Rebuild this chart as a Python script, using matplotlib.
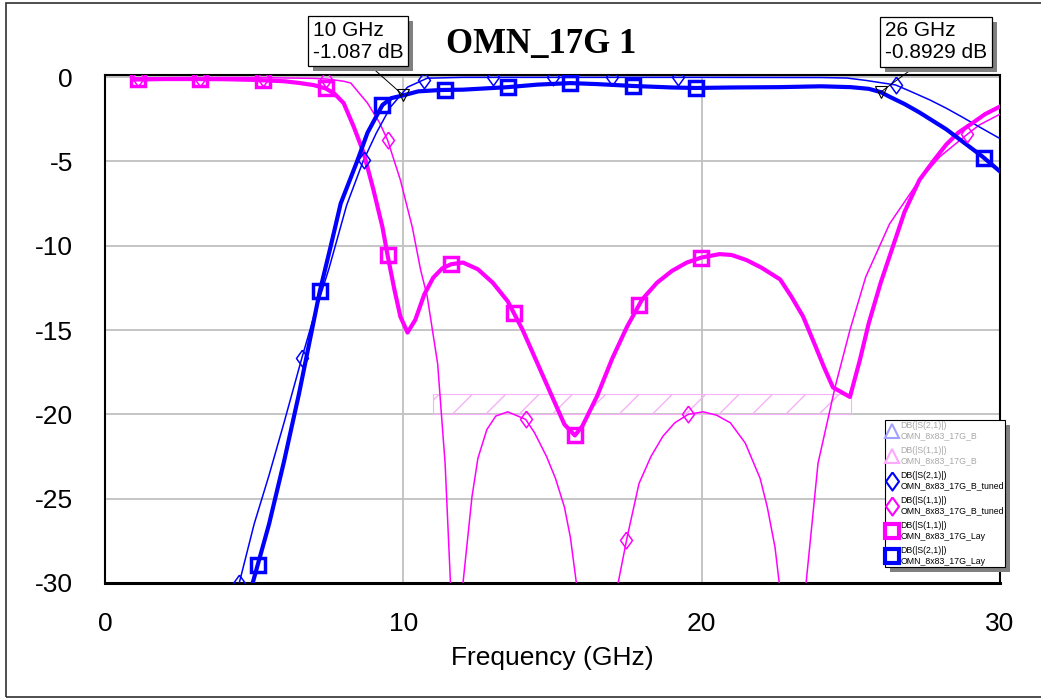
import numpy as np
import matplotlib
matplotlib.use("Agg")
import matplotlib.pyplot as plt
import matplotlib.patheffects as pe
from matplotlib.lines import Line2D
from matplotlib.patches import Rectangle

plt.rcParams['font.family'] = ['Liberation Sans', 'DejaVu Sans']
plt.rcParams['axes.unicode_minus'] = False

# ---- data (GHz, dB) ----
# DB(|S(2,1)|) OMN_8x83_17G_Lay  (thick blue)
f_s21_lay = [1.0, 4.95, 5.5, 6.0, 6.5, 7.2, 7.57, 7.9, 8.45, 8.8, 9.3, 9.6, 10.0, 10.5,
             11.25, 12.0, 13.5, 14.5, 15.6, 16.5, 17.7, 19.0, 19.8, 21.0, 22.6, 24.0,
             25.0, 25.6, 26.0, 26.3, 26.8, 27.3, 28.2, 28.8, 29.4, 30.0]
db_s21_lay = [-70, -30.0, -26.5, -22.8, -18.8, -12.7, -10.0, -7.5, -5.0, -3.3, -1.66, -1.25,
              -1.087, -0.85, -0.77, -0.75, -0.6, -0.45, -0.36, -0.42, -0.53, -0.62, -0.65,
              -0.62, -0.6, -0.55, -0.6, -0.7, -0.893, -1.17, -1.6, -2.1, -3.1, -3.9, -4.7, -5.6]

# DB(|S(1,1)|) OMN_8x83_17G_Lay  (thick magenta)
f_s11_lay = [1.0, 2.0, 3.0, 4.0, 5.0, 6.0, 6.5, 7.0, 7.4, 7.7, 8.0, 8.34, 8.67, 9.0, 9.3,
             9.47, 9.7, 9.9, 10.14, 10.4, 10.7, 11.0, 11.3, 11.6, 12.0, 12.5, 13.0, 13.5,
             14.0, 14.5, 15.0, 15.4, 15.75, 16.0, 16.5, 17.0, 17.5, 18.0, 18.5, 19.0, 19.5,
             20.0, 20.6, 21.0, 21.5, 22.0, 22.63, 23.0, 23.4, 23.8, 24.1, 24.4, 24.97, 25.3,
             25.6, 26.0, 26.4, 26.8, 27.3, 27.8, 28.2, 28.6, 29.1, 29.5, 30.0]
db_s11_lay = [-0.15, -0.12, -0.12, -0.13, -0.17, -0.25, -0.35, -0.48, -0.68, -1.0, -1.55,
              -2.96, -4.5, -6.7, -8.9, -10.55, -12.6, -14.2, -15.15, -14.4, -12.9, -11.9,
              -11.35, -11.1, -11.0, -11.4, -12.2, -13.3, -15.0, -17.0, -19.0, -20.6, -21.25,
              -20.7, -18.9, -16.7, -14.8, -13.2, -12.2, -11.5, -11.0, -10.7, -10.5, -10.55,
              -10.85, -11.3, -12.0, -13.0, -14.2, -15.9, -17.2, -18.4, -18.97, -16.8, -14.6,
              -12.2, -10.1, -8.0, -6.1, -4.9, -4.0, -3.3, -2.7, -2.2, -1.75]

# DB(|S(2,1)|) OMN_8x83_17G_B_tuned  (thin blue)
f_s21_tuned = [1.0, 4.5, 5.0, 5.5, 6.0, 6.6, 7.0, 7.5, 8.1, 8.65, 9.1, 9.57, 10.14, 10.8,
               12.0, 16.0, 20.0, 24.0, 24.87, 25.5, 26.5, 27.0, 27.65, 28.2, 28.76, 29.3, 30.0]
db_s21_tuned = [-70, -30.0, -26.5, -23.6, -20.5, -16.65, -14.2, -11.4, -7.6, -5.0, -3.3,
                -1.78, -0.6, -0.07, -0.02, -0.02, -0.02, -0.03, -0.06, -0.2, -0.47, -0.85,
                -1.36, -1.85, -2.4, -2.95, -3.65]

# DB(|S(1,1)|) OMN_8x83_17G_B_tuned  (thin magenta)
f_s11_tuned = [1.0, 3.0, 5.0, 7.0, 7.45, 8.0, 8.24, 8.8, 9.2, 9.47, 9.9, 10.3, 10.58, 10.8,
               11.15, 11.4, 11.58, 11.8, 12.0, 12.3, 12.5, 12.8, 13.1, 13.5, 14.1, 14.4,
               14.8, 15.1, 15.4, 15.6, 15.8, 16.5, 17.2, 17.5, 17.9, 18.3, 18.7, 19.1, 19.55,
               20.05, 20.5, 20.96, 21.46, 21.96, 22.2, 22.46, 22.6, 23.0, 23.5, 23.9, 24.47,
               24.97, 25.5, 26.3, 27.3, 28.0, 28.9, 29.3, 30.0]
db_s11_tuned = [-0.05, -0.03, -0.03, -0.08, -0.12, -0.25, -0.36, -1.55, -2.7, -3.73, -6.1,
                -8.9, -11.44, -13.0, -17.0, -22.9, -30.0, -45, -30.0, -24.9, -22.6, -20.9,
                -20.1, -19.85, -20.3, -21.1, -22.5, -23.8, -25.5, -27.3, -30.0, -45, -30.0,
                -27.3, -24.1, -22.5, -21.3, -20.5, -20.0, -19.85, -20.05, -20.5, -21.7, -23.8,
                -25.5, -27.9, -30.0, -45, -30.0, -22.9, -18.4, -15.0, -11.85, -8.7, -6.1,
                -4.7, -3.4, -2.85, -2.2]

# marker positions along each trace (GHz)
mk_s21_lay = [5.12, 7.2, 9.3, 11.4, 13.5, 15.6, 17.7, 19.8, 29.46]
mk_s11_lay = [1.12, 3.2, 5.3, 7.4, 9.47, 11.6, 13.7, 15.77, 17.9, 19.99]
mk_s21_tuned = [4.5, 6.6, 8.67, 10.7, 13.0, 15.0, 17.0, 19.2, 26.5]
mk_s11_tuned = [1.12, 3.2, 5.3, 7.4, 9.47, 14.1, 17.48, 19.55, 28.9]

# readout markers
mark_f = [10, 26]
mark_db = [-1.087, -0.8929]
mark_txt = ["10 GHz\n-1.087 dB", "26 GHz\n-0.8929 dB"]

# goal region
goal_f = [11, 25]
goal_db = [-20, -18.8]

blue = '#0000ff'
mag = '#ff00ff'
diamond = [(0, 1), (0.72, 0), (0, -1), (-0.72, 0), (0, 1)]
drop = [pe.SimplePatchShadow(offset=(3.6, -3.6), shadow_rgbFace='#808080', alpha=1.0),
        pe.Normal()]

fig = plt.figure(figsize=(10.41, 7), dpi=100)
ax = fig.add_axes([105 / 1041, 1 - 583 / 700, 895 / 1041, 508 / 700])

# outer frame
fig.patches.append(Rectangle((6, 3), 1045, 694, transform=None, fill=False,
                             edgecolor='#303030', lw=1.2))

# hatched goal box
ax.add_patch(Rectangle((goal_f[0], goal_db[0]), goal_f[1] - goal_f[0], goal_db[1] - goal_db[0],
                       fill=False, hatch='/', edgecolor='#f6b2f6', lw=0.8, zorder=1))

# traces
ax.plot(f_s11_tuned, db_s11_tuned, color=mag, lw=1.1, zorder=3)
ax.plot(f_s21_tuned, db_s21_tuned, color=blue, lw=1.1, zorder=3)
ax.plot(f_s11_lay, db_s11_lay, color=mag, lw=3, zorder=4)
ax.plot(f_s21_lay, db_s21_lay, color=blue, lw=3, zorder=4)

ax.plot(mk_s11_tuned, np.interp(mk_s11_tuned, f_s11_tuned, db_s11_tuned), ls='none',
        marker=diamond, ms=12, mfc='none', mec=mag, mew=1.1, zorder=5)
ax.plot(mk_s21_tuned, np.interp(mk_s21_tuned, f_s21_tuned, db_s21_tuned), ls='none',
        marker=diamond, ms=12, mfc='none', mec=blue, mew=1.1, zorder=5)
ax.plot(mk_s11_lay, np.interp(mk_s11_lay, f_s11_lay, db_s11_lay), ls='none',
        marker='s', ms=10.5, mfc='none', mec=mag, mew=2.5, zorder=5)
ax.plot(mk_s21_lay, np.interp(mk_s21_lay, f_s21_lay, db_s21_lay), ls='none',
        marker='s', ms=10.5, mfc='none', mec=blue, mew=2.5, zorder=5)

# marker readouts
ax.plot(mark_f, mark_db, ls='none', marker='v', ms=9, mfc='none', mec='black', mew=0.8, zorder=6)
box_pos = [(358, 700 - 41), (936, 700 - 42)]
rel = [(0.58, 0), (0.35, 0)]
for f, d, t, p, r in zip(mark_f, mark_db, mark_txt, box_pos, rel):
    a = ax.annotate(t, xy=(f, d), xytext=p, textcoords='figure pixels',
                    fontsize=15, color='black', ha='center', va='center', ma='left',
                    bbox=dict(boxstyle='square,pad=0.22', fc='white', ec='black', lw=0.9),
                    arrowprops=dict(arrowstyle='-', color='black', lw=0.7, shrinkA=0, shrinkB=0,
                                    relpos=r),
                    annotation_clip=False, zorder=8)
    a.get_bbox_patch().set_path_effects(drop)

ax.set_xlim(0, 30)
ax.set_ylim(-30, 0.12)
ax.set_xticks([0, 10, 20, 30])
ax.set_yticks([0, -5, -10, -15, -20, -25, -30])
ax.tick_params(length=0, labelsize=19)
ax.tick_params(axis='y', pad=23)
ax.tick_params(axis='x', pad=21)
ax.grid(True, color='#c0c0c0', lw=1.3)
ax.set_axisbelow(True)
for s in ax.spines.values():
    s.set_linewidth(1.5)
ax.spines['bottom'].set_linewidth(2.2)
ax.set_xlabel("Frequency (GHz)", fontsize=19, labelpad=7)

fig.text(541 / 1041, 1 - 45 / 700, "OMN_17G 1", fontsize=25, fontweight='bold',
         family='Liberation Serif', ha='center', va='center')

# legend
handles = [
    Line2D([], [], ls='none', marker='^', ms=10, mfc='none', mec='#a0a0ff', mew=1.5),
    Line2D([], [], ls='none', marker='^', ms=10, mfc='none', mec='#ffa8ff', mew=1.5),
    Line2D([], [], ls='none', marker=diamond, ms=13, mfc='none', mec=blue, mew=1.5),
    Line2D([], [], ls='none', marker=diamond, ms=13, mfc='none', mec=mag, mew=1.5),
    Line2D([], [], ls='none', marker='s', ms=10.5, mfc='none', mec=mag, mew=3),
    Line2D([], [], ls='none', marker='s', ms=10.5, mfc='none', mec=blue, mew=3),
]
labels = ["DB(|S(2,1)|)\nOMN_8x83_17G_B", "DB(|S(1,1)|)\nOMN_8x83_17G_B",
          "DB(|S(2,1)|)\nOMN_8x83_17G_B_tuned", "DB(|S(1,1)|)\nOMN_8x83_17G_B_tuned",
          "DB(|S(1,1)|)\nOMN_8x83_17G_Lay", "DB(|S(2,1)|)\nOMN_8x83_17G_Lay"]
leg = ax.legend(handles, labels, loc='upper left', bbox_to_anchor=(885 / 1041, 1 - 420 / 700),
                bbox_transform=fig.transFigure, fontsize=6.3, handlelength=1.5,
                handletextpad=0.15, borderpad=0.1, labelspacing=0.65, borderaxespad=0,
                fancybox=False, framealpha=1, edgecolor='black')
leg.get_frame().set_linewidth(0.8)
leg.get_frame().set_path_effects(drop)
leg.set_zorder(10)
for t in leg.get_texts()[:2]:
    t.set_color('#a8a8a8')

fig.savefig("out.png", dpi=100)
